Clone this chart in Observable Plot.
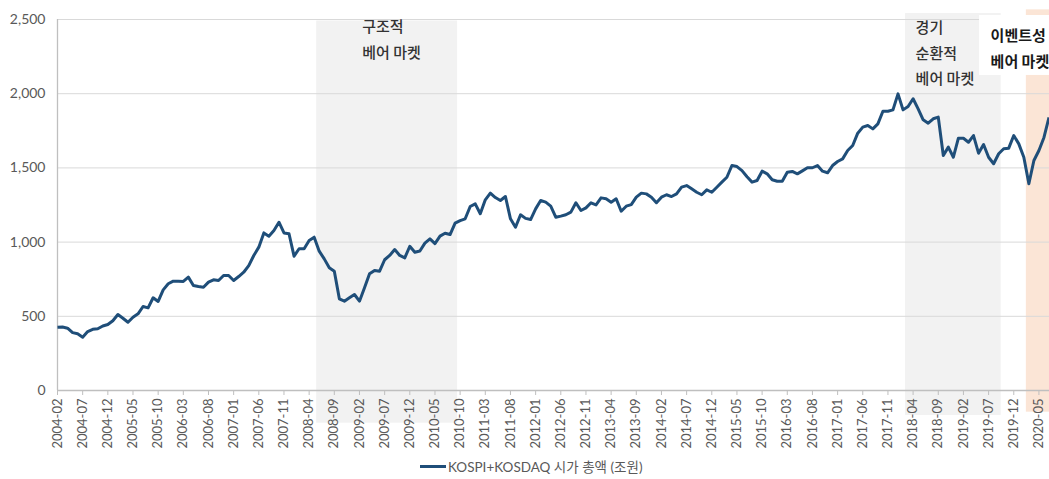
<!DOCTYPE html>
<html>
<head>
<meta charset="utf-8">
<script src="https://cdn.jsdelivr.net/npm/d3@7"></script>
<script src="https://cdn.jsdelivr.net/npm/@observablehq/plot@0.6"></script>
<style>
  html, body { margin: 0; padding: 0; background: #fff; overflow: hidden; }
  #wrap { position: relative; width: 1049px; height: 479px; }
  #legend { position: absolute; left: 420px; top: 456px; height: 20px; display: flex; align-items: center;
    font-family: Lato, "Noto Sans CJK KR", sans-serif; font-size: 13.5px; color: #595959; white-space: nowrap; }
  #legend .sw { display: inline-block; width: 26px; height: 3px; background: #1f4e79; margin-right: 2px; }
</style>
</head>
<body>
<div id="wrap"><div id="chart"></div><div id="legend"><span class="sw"></span><span>KOSPI+KOSDAQ 시가 총액 (조원)</span></div></div>
<script>
// Monthly KOSPI+KOSDAQ market cap (trillion KRW), starting 2004-02
const startMonth = "2004-02";
const values = [
  427, 428, 420, 390, 382, 359, 397, 412, 416, 435, 445,
  470, 512, 487, 460, 494, 517, 566, 557, 625, 600, 678, 719,
  737, 737, 735, 764, 708, 701, 696, 730, 746, 741, 775, 775,
  741, 768, 797, 842, 910, 966, 1062, 1040, 1078, 1134, 1062, 1056,
  905, 955, 955, 1011, 1033, 939, 887, 827, 804, 618, 602, 625,
  647, 602, 692, 786, 809, 804, 881, 910, 950, 910, 894, 972,
  932, 940, 993, 1022, 990, 1040, 1060, 1051, 1128, 1145, 1157, 1240,
  1258, 1191, 1285, 1330, 1300, 1280, 1307, 1157, 1100, 1184, 1160, 1152,
  1224, 1280, 1269, 1242, 1168, 1175, 1184, 1202, 1265, 1213, 1231, 1265,
  1251, 1298, 1292, 1269, 1292, 1208, 1242, 1253, 1303, 1330, 1325, 1303,
  1265, 1303, 1319, 1307, 1325, 1370, 1381, 1359, 1336, 1319, 1352, 1336,
  1370, 1404, 1437, 1516, 1509, 1482, 1440, 1404, 1415, 1478, 1460, 1420,
  1410, 1410, 1471, 1476, 1460, 1480, 1501, 1501, 1516, 1478, 1467, 1516,
  1543, 1561, 1617, 1651, 1734, 1775, 1786, 1763, 1797, 1882, 1882, 1891,
  1999, 1891, 1914, 1966, 1898, 1824, 1801, 1831, 1842, 1584, 1640, 1572,
  1700, 1700, 1673, 1718, 1599, 1658, 1572, 1528, 1595, 1629, 1633, 1718,
  1662, 1572, 1393, 1550, 1617, 1705, 1840
];
const tickLabels = ["2004-02","2004-07","2004-12","2005-05","2005-10","2006-03","2006-08","2007-01","2007-06","2007-11",
  "2008-04","2008-09","2009-02","2009-07","2009-12","2010-05","2010-10","2011-03","2011-08","2012-01",
  "2012-06","2012-11","2013-04","2013-09","2014-02","2014-07","2014-12","2015-05","2015-10","2016-03",
  "2016-08","2017-01","2017-06","2017-11","2018-04","2018-09","2019-02","2019-07","2019-12","2020-05"];
const yTicks = [0, 500, 1000, 1500, 2000, 2500];

// Bear-market shaded periods
const shadeKind = ["structural", "cyclical", "event"];
const shadeFrom = ["2008-06", "2018-03", "2020-03"];
const shadeTo = ["2010-09", "2019-09", "2020-07"];
const shadeTop = [2490, 2540, 2565];
const shadeBottom = [-220, -168, -146];

// Annotations (anchored in data space: month index, value)
const noteText = ["구조적\n베어 마켓", "경기\n순환적\n베어 마켓", "이벤트성\n베어 마켓"];
const noteAt = [60.55, 170.5, 185.4];
const noteTop = [2534, 2527, 2473];
const noteBold = [false, false, true];
// white label box behind the event annotation
const boxX = [183.2, 198];
const boxY = [2123, 2527];

// build month list
const [sy, sm] = startMonth.split("-").map(Number);
const months = values.map((_, i) => {
  const t = (sm - 1) + i;
  const y = sy + Math.floor(t / 12), m = (t % 12) + 1;
  return `${y}-${String(m).padStart(2, "0")}`;
});
const idx = m => months.indexOf(m);
const series = values.map((v, i) => ({i, v}));
const shades = shadeKind.map((k, j) => ({k, x1: idx(shadeFrom[j]) - 0.5, x2: idx(shadeTo[j]) + 0.5, y1: shadeBottom[j], y2: shadeTop[j]}));
const notes = noteText.map((t, j) => ({t, x: noteAt[j], y: noteTop[j], bold: noteBold[j]}));
const tickIdx = tickLabels.map(idx);
const fmt = d3.format(",");

const font = 'Lato, "Noto Sans CJK KR", sans-serif';
const kfont = '"Noto Sans CJK KR", sans-serif';

const chart = Plot.plot({
  width: 1049,
  height: 455,
  marginLeft: 57,
  marginRight: 0,
  marginTop: 19,
  marginBottom: 65,
  style: {fontFamily: font, fontSize: "13px", background: "white", color: "#595959"},
  x: {type: "linear", domain: [0, 197.1]},
  y: {type: "linear", domain: [0, 2500]},
  marks: [
    Plot.rect(shades, {x1: "x1", x2: "x2", y1: "y1", y2: "y2", fill: d => d.k === "event" ? "#fbe5d6" : "#f2f2f2"}),
    Plot.gridY(yTicks, {stroke: "#d9d9d9", strokeOpacity: 1, strokeWidth: 1}),
    Plot.rect([{x1: boxX[0], x2: boxX[1], y1: boxY[0], y2: boxY[1]}], {x1: "x1", x2: "x2", y1: "y1", y2: "y2", fill: "white"}),
    Plot.axisY({ticks: yTicks, tickFormat: d => fmt(d), tickSize: 0, tickPadding: 12, fontSize: 14, fill: "#595959"}),
    Plot.ruleX([0], {y1: 0, y2: 2500, stroke: "#bfbfbf", strokeWidth: 1.3}),
    Plot.ruleY([0], {stroke: "#bfbfbf", strokeWidth: 1.3}),
    Plot.axisX({ticks: tickIdx, tickFormat: i => months[i], tickRotate: -90, tickSize: 5, tickPadding: 3,
      stroke: "#bfbfbf", fill: "#595959", fontSize: 13}),
    Plot.line(series, {x: "i", y: "v", stroke: "#1f4e79", strokeWidth: 3, strokeLinejoin: "round", strokeLinecap: "butt"}),
    Plot.text(notes.filter(d => !d.bold), {x: "x", y: "y", text: "t", textAnchor: "start", lineAnchor: "top",
      lineHeight: 1.68, fontSize: 15, fontWeight: 500, fontFamily: kfont, fill: "#333333"}),
    Plot.text(notes.filter(d => d.bold), {x: "x", y: "y", text: "t", textAnchor: "start", lineAnchor: "top",
      lineHeight: 1.68, fontSize: 15, fontWeight: "bold", fontFamily: kfont, fill: "#1a1a1a"})
  ]
});
document.getElementById("chart").appendChild(chart);
</script>
</body>
</html>
